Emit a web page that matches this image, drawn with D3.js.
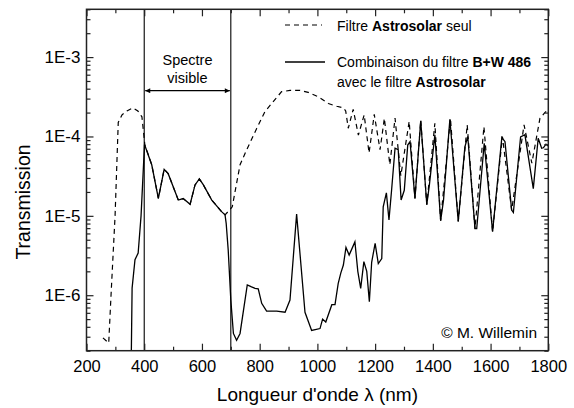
<!DOCTYPE html>
<html>
<head>
<meta charset="utf-8">
<script src="https://cdn.jsdelivr.net/npm/d3@7"></script>
<style>
  body { margin: 0; background: #fff; }
  svg { display: block; font-family: "Liberation Sans", Arial, sans-serif; }
</style>
</head>
<body>
<svg id="chart"></svg>
<script>
// Config
const width = 574;
const height = 408;
const margin = { top: 9.3, right: 25.7, bottom: 57.3, left: 86.5 };

// Filtre Astrosolar seul (lambda nm, transmission)
const astroPoints = [
  [257, 2.9e-7], [277, 2.5e-7], [285, 1.0e-6], [299, 1.0e-5], [310, 1.5e-4],
  [323, 1.87e-4], [340, 2.1e-4], [361, 2.29e-4], [378, 2.09e-4], [392, 1.77e-4],
  [398, 1.1e-4], [402, 7.9e-5], [426, 4.4e-5], [449, 1.66e-5], [469, 3.86e-5],
  [483, 3.4e-5], [518, 1.58e-5], [535, 1.65e-5], [559, 1.4e-5], [576, 2.45e-5],
  [591, 2.92e-5], [605, 2.45e-5], [634, 1.58e-5], [668, 1.13e-5], [680, 1.03e-5],
  [697, 1.2e-5], [705, 1.3e-5], [732, 4.4e-5], [755, 6.8e-5], [790, 1.27e-4],
  [818, 2.05e-4], [847, 2.75e-4], [876, 3.67e-4], [905, 3.8e-4], [940, 3.8e-4],
  [968, 3.6e-4], [1003, 3.16e-4], [1038, 2.6e-4], [1067, 2.4e-4], [1090, 2.3e-4],
  [1098, 2.1e-4], [1107, 1.27e-4], [1124, 2.2e-4], [1142, 1.04e-4], [1162, 1.87e-4],
  [1179, 6.2e-5], [1197, 1.9e-4], [1217, 6.8e-5], [1232, 1.69e-4], [1251, 4.4e-5],
  [1269, 1.7e-4], [1289, 3.2e-5], [1318, 1.55e-4], [1338, 1.66e-5], [1358, 1.6e-4],
  [1379, 1.38e-5], [1407, 1.47e-4], [1427, 8.7e-6], [1461, 1.69e-4], [1488, 8.5e-6],
  [1519, 1.4e-4], [1546, 6.9e-6], [1577, 1.33e-4], [1607, 6.3e-6], [1641, 1.0e-4],
  [1673, 1.18e-5], [1716, 1.4e-4], [1743, 4.6e-5], [1771, 1.69e-4], [1788, 2.0e-4],
  [1800, 2.2e-4]
];

// Combinaison B+W 486 + Astrosolar
const comboPoints = [
  [355, 1.5e-7], [358, 1.23e-6], [368, 2.8e-6], [379, 3.4e-6], [389, 1.0e-5],
  [401, 7.9e-5], [426, 4.4e-5], [449, 1.66e-5], [469, 3.86e-5], [483, 3.4e-5],
  [518, 1.58e-5], [535, 1.65e-5], [559, 1.4e-5], [576, 2.45e-5], [591, 2.92e-5],
  [605, 2.45e-5], [634, 1.58e-5], [668, 1.13e-5], [680, 1.03e-5], [684, 8e-6],
  [691, 3.7e-6], [700, 8.7e-7], [709, 3.3e-7], [720, 2.7e-7], [732, 3.3e-7],
  [757, 1.35e-6], [770, 1.28e-6], [784, 1.22e-6], [795, 1.2e-6], [807, 7.9e-7],
  [824, 6.3e-7], [859, 6.3e-7], [888, 6.1e-7], [905, 8.7e-7], [928, 1.05e-5],
  [957, 6.1e-7], [980, 3.6e-7], [1009, 3.8e-7], [1018, 5e-7], [1029, 4.6e-7],
  [1050, 7.6e-7], [1061, 7.6e-7], [1072, 1.4e-6], [1081, 1.9e-6], [1090, 2.4e-6],
  [1099, 4.0e-6], [1110, 3.2e-6], [1130, 4.7e-6], [1140, 2.0e-6], [1150, 1.22e-6],
  [1161, 2.65e-6], [1171, 2.0e-6], [1180, 8.3e-7], [1188, 2.6e-6], [1200, 4.5e-6],
  [1211, 2.5e-6], [1223, 2.9e-6], [1228, 1.3e-5], [1239, 1.95e-5], [1248, 8.9e-6],
  [1257, 2.1e-5], [1269, 7.1e-5], [1280, 6.8e-5], [1290, 1.58e-5], [1301, 2.1e-5],
  [1313, 7.8e-5], [1321, 8.6e-5], [1338, 1.66e-5], [1358, 1.58e-4], [1379, 1.38e-5],
  [1388, 2.45e-5], [1407, 1.05e-4], [1427, 8.7e-6], [1437, 1.58e-5], [1459, 1.65e-4],
  [1488, 8.5e-6], [1511, 7.4e-5], [1521, 1.0e-4], [1546, 6.9e-6], [1552, 6.9e-6],
  [1578, 8.2e-5], [1607, 6.3e-6], [1639, 9.7e-5], [1650, 8.6e-5], [1673, 1.18e-5],
  [1679, 1.1e-5], [1704, 9.9e-5], [1719, 1.05e-4], [1748, 2.2e-5], [1765, 9.5e-5],
  [1777, 7.1e-5], [1783, 7.2e-5], [1792, 8.0e-5], [1800, 7.6e-5]
];

// Axes
const xDomain = [200, 1800];
const yDomain = [2e-7, 4e-3];
const xMajorTicks = [200, 400, 600, 800, 1000, 1200, 1400, 1600, 1800];
const yMajorTicks = [1e-6, 1e-5, 1e-4, 1e-3];
const yTickLabels = ["1E-6", "1E-5", "1E-4", "1E-3"];
const visibleBand = [400, 700];

const svg = d3.select("#chart")
  .attr("width", width)
  .attr("height", height);

const innerW = width - margin.left - margin.right;
const innerH = height - margin.top - margin.bottom;

const x = d3.scaleLinear().domain(xDomain).range([margin.left, margin.left + innerW]);
const y = d3.scaleLog().domain(yDomain).range([margin.top + innerH, margin.top]);

// minor ticks
const xMinorTicks = d3.range(300, 1800, 200);
const yMinorTicks = [];
for (let e = -7; e <= -3; e++) {
  for (let m = 2; m <= 9; m++) {
    const v = m * Math.pow(10, e);
    if (v >= yDomain[0] && v <= yDomain[1] * 1.0001) yMinorTicks.push(v);
  }
}

svg.append("defs").append("clipPath").attr("id", "plotClip")
  .append("rect")
  .attr("x", margin.left).attr("y", margin.top)
  .attr("width", innerW).attr("height", innerH);

// series
const line = d3.line().x(d => x(d[0])).y(d => y(d[1]));

svg.append("path")
  .datum(astroPoints)
  .attr("clip-path", "url(#plotClip)")
  .attr("fill", "none")
  .attr("stroke", "#000")
  .attr("stroke-width", 1.2)
  .attr("stroke-dasharray", "5,4")
  .attr("d", line);

svg.append("path")
  .datum(comboPoints)
  .attr("clip-path", "url(#plotClip)")
  .attr("fill", "none")
  .attr("stroke", "#000")
  .attr("stroke-width", 1.3)
  .attr("d", line);

// bornes du spectre visible
visibleBand.forEach(v => {
  svg.append("line")
    .attr("x1", x(v)).attr("x2", x(v))
    .attr("y1", margin.top).attr("y2", margin.top + innerH)
    .attr("stroke", "#000")
    .attr("stroke-width", 1.1);
});

const marker = svg.select("defs").append("marker")
  .attr("id", "arrow")
  .attr("viewBox", "0 0 10 10")
  .attr("refX", 10).attr("refY", 5)
  .attr("markerWidth", 7).attr("markerHeight", 5)
  .attr("markerUnits", "userSpaceOnUse")
  .attr("orient", "auto-start-reverse");
marker.append("path").attr("d", "M0,0L10,5L0,10Z").attr("fill", "#000");

svg.append("line")
  .attr("x1", x(visibleBand[0]) + 1).attr("x2", x(visibleBand[1]) - 1)
  .attr("y1", 90.7).attr("y2", 90.7)
  .attr("stroke", "#000")
  .attr("stroke-width", 1.2)
  .attr("marker-start", "url(#arrow)")
  .attr("marker-end", "url(#arrow)");

const midVis = (x(visibleBand[0]) + x(visibleBand[1])) / 2;
svg.append("text").attr("x", midVis).attr("y", 65)
  .attr("text-anchor", "middle").attr("font-size", 14.5).text("Spectre");
svg.append("text").attr("x", midVis).attr("y", 83)
  .attr("text-anchor", "middle").attr("font-size", 14.5).text("visible");

// axes (ticks vers l'interieur)
function drawAxis(axis, tx, ty) {
  const g = svg.append("g").attr("transform", `translate(${tx},${ty})`).call(axis);
  g.select(".domain").remove();
  g.selectAll(".tick line").attr("stroke", "#222").attr("stroke-width", 1.2);
  g.selectAll("text").attr("fill", "#000").attr("font-family", "Liberation Sans, Arial, sans-serif");
  return g;
}

const bottom = margin.top + innerH;
const right = margin.left + innerW;

drawAxis(d3.axisBottom(x).tickValues(xMajorTicks).tickFormat(d3.format("d"))
  .tickSizeInner(-7).tickSizeOuter(0).tickPadding(10), 0, bottom)
  .selectAll("text").attr("font-size", 16.5);
drawAxis(d3.axisBottom(x).tickValues(xMinorTicks).tickFormat("")
  .tickSizeInner(-4).tickSizeOuter(0), 0, bottom);
drawAxis(d3.axisTop(x).tickValues(xMajorTicks).tickFormat("")
  .tickSizeInner(-7).tickSizeOuter(0), 0, margin.top);
drawAxis(d3.axisTop(x).tickValues(xMinorTicks).tickFormat("")
  .tickSizeInner(-4).tickSizeOuter(0), 0, margin.top);

drawAxis(d3.axisLeft(y).tickValues(yMajorTicks)
  .tickFormat((d, i) => yTickLabels[i])
  .tickSizeInner(-7).tickSizeOuter(0).tickPadding(6), margin.left, 0)
  .selectAll("text").attr("font-size", 17);
drawAxis(d3.axisLeft(y).tickValues(yMinorTicks).tickFormat("")
  .tickSizeInner(-4).tickSizeOuter(0), margin.left, 0);
drawAxis(d3.axisRight(y).tickValues(yMajorTicks).tickFormat("")
  .tickSizeInner(-7).tickSizeOuter(0), right, 0);
drawAxis(d3.axisRight(y).tickValues(yMinorTicks).tickFormat("")
  .tickSizeInner(-4).tickSizeOuter(0), right, 0);

// cadre
svg.append("rect")
  .attr("x", margin.left).attr("y", margin.top)
  .attr("width", innerW).attr("height", innerH)
  .attr("fill", "none")
  .attr("stroke", "#222")
  .attr("stroke-width", 1.5);

// titres
svg.append("text")
  .attr("x", margin.left + innerW / 2).attr("y", 401)
  .attr("text-anchor", "middle").attr("font-size", 19)
  .text("Longueur d'onde \u03bb (nm)");

svg.append("text")
  .attr("transform", "translate(30,202) rotate(-90)")
  .attr("text-anchor", "middle").attr("font-size", 19.5)
  .text("Transmission");

// legende
const legend = svg.append("g");
legend.append("line")
  .attr("x1", 285).attr("x2", 322).attr("y1", 25).attr("y2", 25)
  .attr("stroke", "#000").attr("stroke-width", 1.2).attr("stroke-dasharray", "5,4");
const t1 = legend.append("text").attr("x", 337).attr("y", 30.5).attr("font-size", 14);
t1.append("tspan").text("Filtre ");
t1.append("tspan").attr("font-weight", "bold").text("Astrosolar");
t1.append("tspan").text(" seul");

legend.append("line")
  .attr("x1", 285).attr("x2", 325).attr("y1", 62).attr("y2", 62)
  .attr("stroke", "#000").attr("stroke-width", 1.3);
const t2 = legend.append("text").attr("x", 337).attr("y", 66.7).attr("font-size", 14);
t2.append("tspan").text("Combinaison du filtre ");
t2.append("tspan").attr("font-weight", "bold").text("B+W 486");
const t3 = legend.append("text").attr("x", 337).attr("y", 86.5).attr("font-size", 14);
t3.append("tspan").text("avec le filtre ");
t3.append("tspan").attr("font-weight", "bold").text("Astrosolar");

svg.append("text")
  .attr("x", 537).attr("y", 338)
  .attr("text-anchor", "end").attr("font-size", 15.5)
  .text("\u00a9 M. Willemin");
</script>
</body>
</html>
